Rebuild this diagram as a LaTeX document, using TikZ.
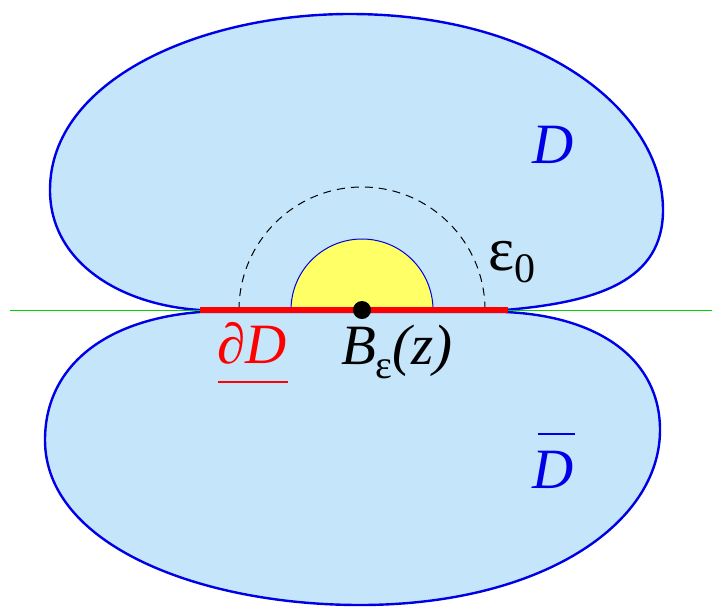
\documentclass[tikz,border=0pt]{standalone}
\usepackage{fontspec}
\setmainfont{Liberation Serif}
\definecolor{blobfill}{RGB}{197,230,250}
\definecolor{blobline}{RGB}{0,0,230}
\definecolor{halfyellow}{RGB}{255,255,102}
\definecolor{axisgreen}{RGB}{0,210,0}
\tikzset{
  blob/.style={draw=blobline, fill=blobfill, line width=2.4pt},
  lbl/.style={inner sep=0pt, font=\fontsize{57}{60}\selectfont},
}
\begin{document}
\begin{tikzpicture}[x=1pt,y=-1pt]
\useasboundingbox (0,0) rectangle (712,606);
% upper domain
\path[blob] (200,310) .. controls (120,305) and (50,262) .. (50,190)
  .. controls (50,80) and (200,14) .. (350,14)
  .. controls (540,14) and (663,110) .. (663,210)
  .. controls (663,280) and (600,302) .. (505,310) -- cycle;
% lower domain
\path[blob] (200,312) .. controls (100,320) and (45,370) .. (45,440)
  .. controls (45,545) and (200,605) .. (360,605)
  .. controls (540,605) and (660,525) .. (660,430)
  .. controls (660,360) and (600,316) .. (505,312) -- cycle;
% half disc
\path[draw=blobline, fill=halfyellow, line width=1pt] (291,310) arc[start angle=180, end angle=360, radius=71] -- cycle;
% dashed arc
\draw[line width=1pt, dash pattern=on 8pt off 6pt] (239,310) arc[start angle=180, end angle=360, radius=123];
% axis
\coordinate (gl) at (10,310);
\coordinate (gr) at (712,310);
\draw[axisgreen, line width=1pt] (gl) -- (gr);
% boundary
\coordinate (rl) at (200,310);
\coordinate (rr) at (508,310);
\draw[red, line width=6pt] (rl) -- (rr);
\node[circle, fill=black, minimum size=18pt, inner sep=0pt] (z) at (362,310) {};
% labels
\node[lbl, text=blobline] (D) at (553,145) {\itshape D};
\node[lbl, text=blobline] (Db) at (553,470) {\itshape D};
\coordinate (bl) at (538,434);
\coordinate (br) at (575,434);
\draw[blobline, line width=2.5pt] (bl) -- (br);
\node[lbl] (eps) at (512,262) {\fontsize{62}{62}\selectfont ε\raisebox{-12pt}{\fontsize{42}{42}\selectfont 0}};
\node[lbl, text=red] (dD) at (252,343) {∂\itshape D};
\coordinate (ul) at (218,382);
\coordinate (ur) at (288,382);
\draw[red, line width=2pt] (ul) -- (ur);
\node[lbl] (B) at (397,352) {\itshape B\raisebox{-14pt}{\fontsize{40}{40}\selectfont\upshape ε}(z)};
\end{tikzpicture}
\end{document}
